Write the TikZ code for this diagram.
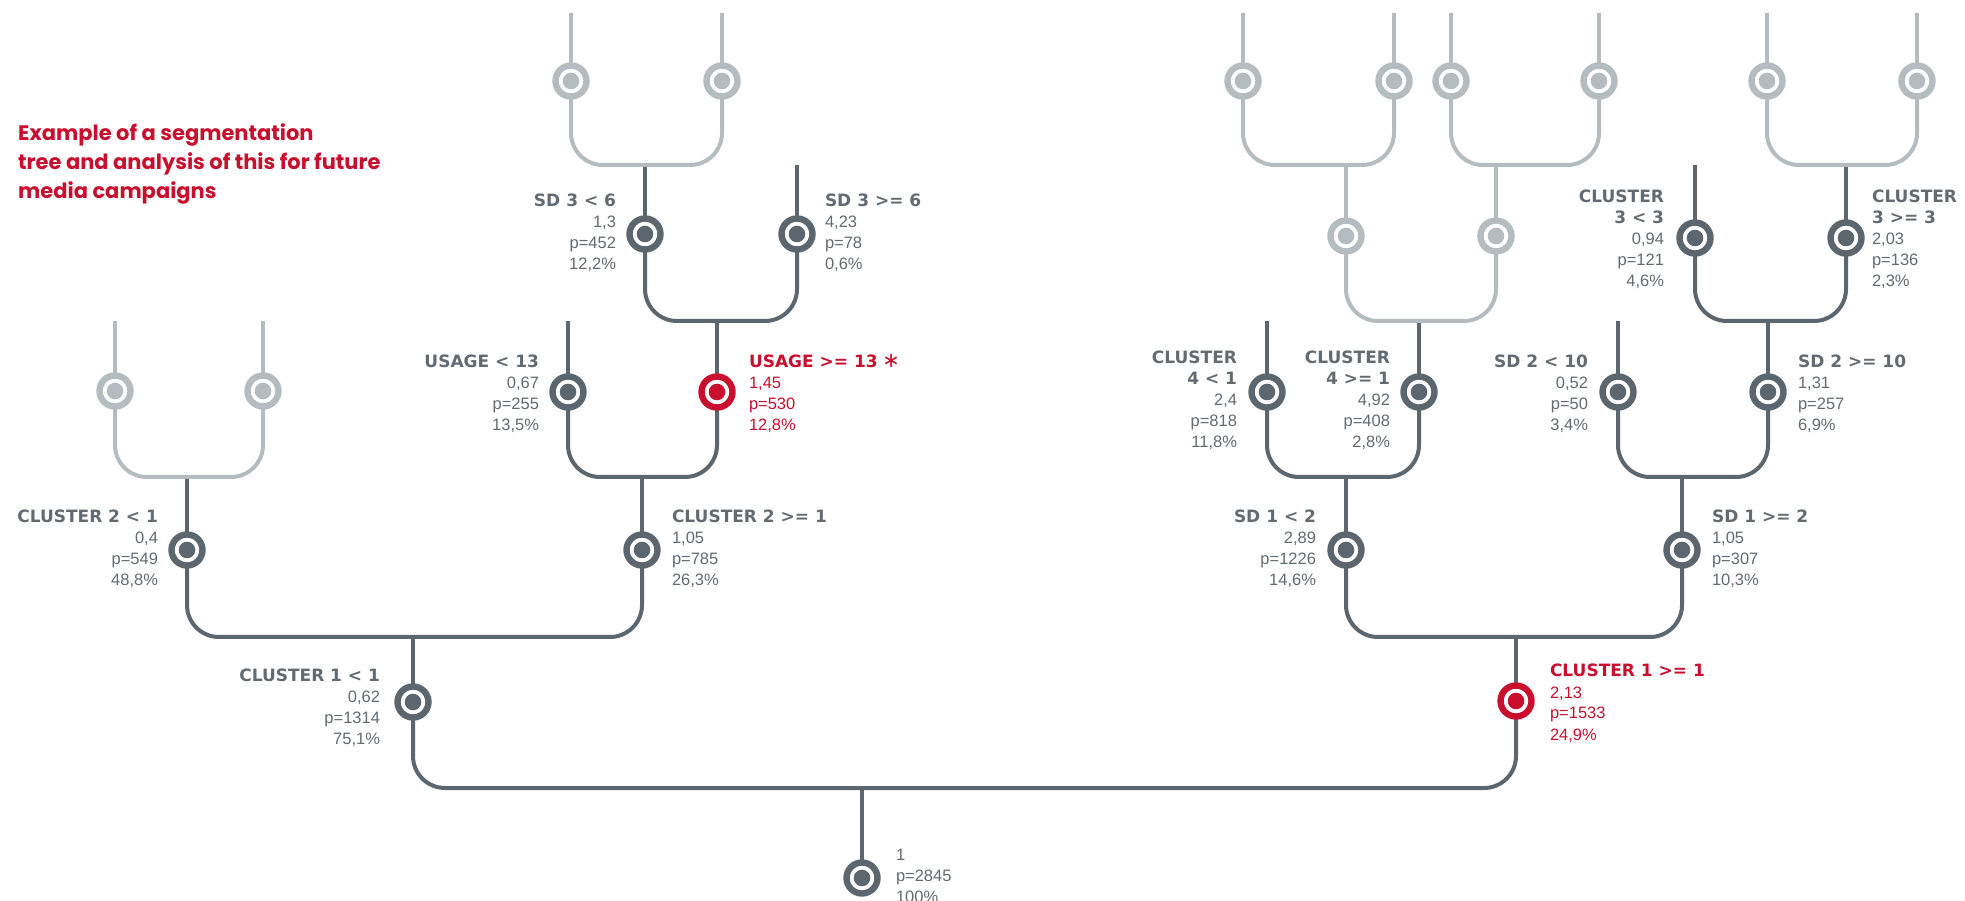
\documentclass[tikz,border=0pt]{standalone}
\usepackage{fontspec}
\setmainfont{Liberation Sans}
\newfontfamily\heavyfont{DejaVu Sans}
\newfontfamily\titlefont{Poppins}
\usetikzlibrary{backgrounds}
\definecolor{Slate}{RGB}{91, 102, 110}
\definecolor{SlateText}{RGB}{98, 107, 114}
\definecolor{Mist}{RGB}{180, 188, 191}
\definecolor{Crimson}{RGB}{200, 16, 46}
\newcommand{\cond}[1]{\rule{0pt}{16pt}{\heavyfont\bfseries\fontsize{17}{21}\selectfont #1}}

\begin{document}
\begin{tikzpicture}[
    x=1pt, y=1pt,
    font=\fontsize{16.5}{21}\selectfont,
    knot/.style={circle, draw=#1, line width=6.4pt, fill=white, minimum size=31pt, inner sep=0pt, outer sep=0pt, path picture={\fill[#1] (path picture bounding box.center) circle (8.3pt);}},
    link/.style={draw=Slate, line width=4pt, rounded corners=32pt},
    ghost/.style={draw=Mist, line width=4pt, rounded corners=32pt},
    lefttxt/.style={anchor=north east, align=right, inner sep=0pt, outer sep=0pt, text=SlateText},
    righttxt/.style={anchor=north west, align=left, inner sep=0pt, outer sep=0pt, text=SlateText},
    hot/.style={text=Crimson}
]
    \useasboundingbox (0, 0) rectangle (1965, 900);

    % Title
    \node[anchor=north west, align=left, inner sep=0pt, text=Crimson, font=\titlefont\bfseries\fontsize{21}{29}\selectfont] (title) at (18, 780) {\rule{0pt}{20pt}Example of a segmentation\\tree and analysis of this for future\\media campaigns};

    % Bar heights
    \coordinate (y0) at (0, 112);
    \coordinate (y1) at (0, 263);
    \coordinate (y2) at (0, 423);
    \coordinate (y3) at (0, 579);
    \coordinate (y4) at (0, 735);
    \coordinate (ytop) at (0, 887);

    % Segments
    \node[knot=Slate] (root) at (862, 22) {};
    \node[knot=Slate] (c1l) at (413, 198) {};
    \node[knot=Crimson] (c1r) at (1516, 199) {};
    \node[knot=Slate] (c2l) at (187, 350) {};
    \node[knot=Slate] (c2r) at (642, 350) {};
    \node[knot=Slate] (sd1l) at (1346, 350) {};
    \node[knot=Slate] (sd1r) at (1682, 350) {};
    \node[knot=Mist] (g1) at (115, 509) {};
    \node[knot=Mist] (g2) at (263, 509) {};
    \node[knot=Slate] (us1) at (568, 508) {};
    \node[knot=Crimson] (us2) at (717, 508) {};
    \node[knot=Slate] (c4l) at (1267, 508) {};
    \node[knot=Slate] (c4r) at (1419, 508) {};
    \node[knot=Slate] (sd2l) at (1618, 508) {};
    \node[knot=Slate] (sd2r) at (1768, 508) {};
    \node[knot=Slate] (sd3l) at (645, 666) {};
    \node[knot=Slate] (sd3r) at (797, 666) {};
    \node[knot=Mist] (g3) at (1346, 664) {};
    \node[knot=Mist] (g4) at (1496, 664) {};
    \node[knot=Slate] (c3l) at (1695, 662) {};
    \node[knot=Slate] (c3r) at (1846, 662) {};
    \node[knot=Mist] (g5) at (571, 819) {};
    \node[knot=Mist] (g6) at (722, 819) {};
    \node[knot=Mist] (g7) at (1243, 819) {};
    \node[knot=Mist] (g8) at (1394, 819) {};
    \node[knot=Mist] (g9) at (1451, 819) {};
    \node[knot=Mist] (g10) at (1599, 819) {};
    \node[knot=Mist] (g11) at (1767, 819) {};
    \node[knot=Mist] (g12) at (1917, 819) {};

    % Labels
    \node[righttxt] (rootv) at ([xshift=34pt, yshift=34pt]root.center) {\rule{0pt}{16pt}1\\p=2845\\100\%};
    \node[lefttxt] (c1lv) at ([xshift=-33pt, yshift=36pt]c1l.center) {\cond{CLUSTER 1 < 1}\\0,62\\p=1314\\75,1\%};
    \node[righttxt, hot] (c1rv) at ([xshift=34pt, yshift=40pt]c1r.center) {\cond{CLUSTER 1 >= 1}\\2,13\\p=1533\\24,9\%};
    \node[lefttxt] (c2lv) at ([xshift=-29pt, yshift=43pt]c2l.center) {\cond{CLUSTER 2 < 1}\\0,4\\p=549\\48,8\%};
    \node[righttxt] (c2rv) at ([xshift=30pt, yshift=43pt]c2r.center) {\cond{CLUSTER 2 >= 1}\\1,05\\p=785\\26,3\%};
    \node[lefttxt] (sd1lv) at ([xshift=-30pt, yshift=43pt]sd1l.center) {\cond{SD 1 < 2}\\2,89\\p=1226\\14,6\%};
    \node[righttxt] (sd1rv) at ([xshift=30pt, yshift=43pt]sd1r.center) {\cond{SD 1 >= 2}\\1,05\\p=307\\10,3\%};
    \node[lefttxt] (us1v) at ([xshift=-29pt, yshift=40pt]us1.center) {\cond{USAGE < 13}\\0,67\\p=255\\13,5\%};
    \node[righttxt, hot] (us2v) at ([xshift=32pt, yshift=40pt]us2.center) {\cond{USAGE >= 13} {\heavyfont\fontsize{21}{21}\selectfont ∗}\\1,45\\p=530\\12,8\%};
    \node[lefttxt] (c4lv) at ([xshift=-30pt, yshift=44pt]c4l.center) {\cond{CLUSTER}\\\cond{4 < 1}\\2,4\\p=818\\11,8\%};
    \node[lefttxt] (c4rv) at ([xshift=-29pt, yshift=44pt]c4r.center) {\cond{CLUSTER}\\\cond{4 >= 1}\\4,92\\p=408\\2,8\%};
    \node[lefttxt] (sd2lv) at ([xshift=-30pt, yshift=40pt]sd2l.center) {\cond{SD 2 < 10}\\0,52\\p=50\\3,4\%};
    \node[righttxt] (sd2rv) at ([xshift=30pt, yshift=40pt]sd2r.center) {\cond{SD 2 >= 10}\\1,31\\p=257\\6,9\%};
    \node[lefttxt] (sd3lv) at ([xshift=-29pt, yshift=43pt]sd3l.center) {\cond{SD 3 < 6}\\1,3\\p=452\\12,2\%};
    \node[righttxt] (sd3rv) at ([xshift=28pt, yshift=43pt]sd3r.center) {\cond{SD 3 >= 6}\\4,23\\p=78\\0,6\%};
    \node[lefttxt] (c3lv) at ([xshift=-31pt, yshift=51pt]c3l.center) {\cond{CLUSTER}\\\cond{3 < 3}\\0,94\\p=121\\4,6\%};
    \node[righttxt] (c3rv) at ([xshift=26pt, yshift=51pt]c3r.center) {\cond{CLUSTER}\\\cond{3 >= 3}\\2,03\\p=136\\2,3\%};

    \begin{scope}[on background layer]
        % Trunk
        \draw[link] (root) -- (root |- y0);
        \draw[link] (c1l) |- (c1r |- y0) -- (c1r);

        % Level 1
        \draw[link] (c1l) -- (c1l |- y1);
        \draw[link] (c2l) |- (c2r |- y1) -- (c2r);
        \draw[link] (c1r) -- (c1r |- y1);
        \draw[link] (sd1l) |- (sd1r |- y1) -- (sd1r);

        % Level 2
        \draw[link] (c2l) -- (c2l |- y2);
        \draw[ghost] (g1) |- (g2 |- y2) -- (g2);
        \draw[link] (c2r) -- (c2r |- y2);
        \draw[link] (us1) |- (us2 |- y2) -- (us2);
        \draw[link] (sd1l) -- (sd1l |- y2);
        \draw[link] (c4l) |- (c4r |- y2) -- (c4r);
        \draw[link] (sd1r) -- (sd1r |- y2);
        \draw[link] (sd2l) |- (sd2r |- y2) -- (sd2r);

        % Level 3
        \draw[link] (us2) -- (us2 |- y3);
        \draw[link] (sd3l) |- (sd3r |- y3) -- (sd3r);
        \draw[link] (c4r) -- (c4r |- y3);
        \draw[ghost] (g3) |- (g4 |- y3) -- (g4);
        \draw[link] (sd2r) -- (sd2r |- y3);
        \draw[link] (c3l) |- (c3r |- y3) -- (c3r);
        \draw[ghost] (g1) -- (g1 |- y3);
        \draw[ghost] (g2) -- (g2 |- y3);
        \draw[link] (us1) -- (us1 |- y3);
        \draw[link] (c4l) -- (c4l |- y3);
        \draw[link] (sd2l) -- (sd2l |- y3);

        % Level 4
        \draw[link] (sd3l) -- (sd3l |- y4);
        \draw[ghost] (g5) |- (g6 |- y4) -- (g6);
        \draw[link] (sd3r) -- (sd3r |- y4);
        \draw[ghost] (g3) -- (g3 |- y4);
        \draw[ghost] (g7) |- (g8 |- y4) -- (g8);
        \draw[ghost] (g4) -- (g4 |- y4);
        \draw[ghost] (g9) |- (g10 |- y4) -- (g10);
        \draw[link] (c3l) -- (c3l |- y4);
        \draw[link] (c3r) -- (c3r |- y4);
        \draw[ghost] (g11) |- (g12 |- y4) -- (g12);

        % Open tops
        \foreach \g in {5,...,12}
            \draw[ghost] (g\g) -- (g\g |- ytop);
    \end{scope}

\end{tikzpicture}
\end{document}
